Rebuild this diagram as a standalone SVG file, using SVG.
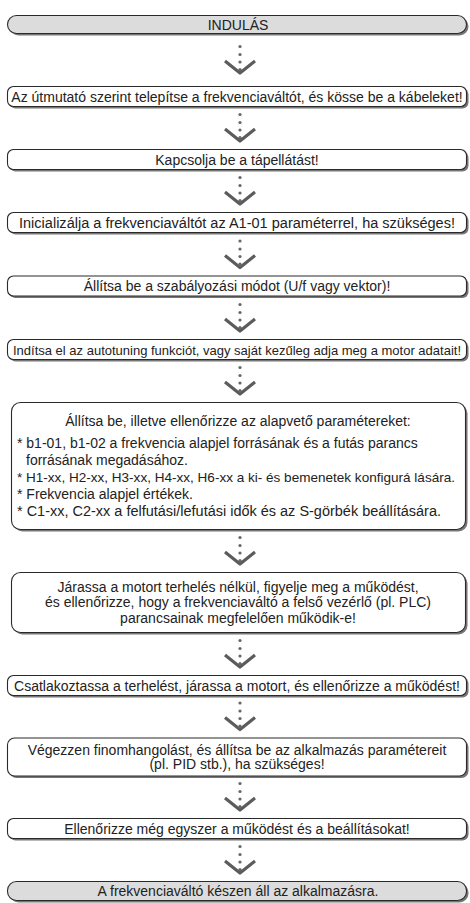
<svg xmlns="http://www.w3.org/2000/svg" xmlns:xlink="http://www.w3.org/1999/xlink" width="470" height="903" viewBox="0 0 470 903">
<style>
.sh{fill:#767676}
.bx{fill:#fff;stroke:#2a2a2a;stroke-width:1.1}
.tm{fill:#dcdcdc}
text{font-family:"Liberation Sans",Arial,sans-serif;font-size:14px;fill:#222}
.c{text-anchor:middle}
.dot{fill:#666}
.chev{fill:none;stroke:#5c5c5c;stroke-width:3.2;stroke-linejoin:round}
</style>
<defs>
<g id="arrow">
<circle class="dot" cx="0" cy="-27.5" r="1.6"/>
<circle class="dot" cx="0" cy="-19.5" r="1.6"/>
<circle class="dot" cx="0" cy="-12" r="1.6"/>
<circle class="dot" cx="0" cy="-4.5" r="1.6"/>
<polyline class="chev" points="-15,-13 0,-1 15,-13"/>
</g>
</defs>
<rect width="470" height="903" fill="#fff"/>
<g id="connectors">
<use xlink:href="#arrow" x="240" y="74"/>
<use xlink:href="#arrow" x="240" y="142"/>
<use xlink:href="#arrow" x="240" y="205"/>
<use xlink:href="#arrow" x="240" y="268.5"/>
<use xlink:href="#arrow" x="240" y="332"/>
<use xlink:href="#arrow" x="240" y="395"/>
<use xlink:href="#arrow" x="240" y="565"/>
<use xlink:href="#arrow" x="240" y="668"/>
<use xlink:href="#arrow" x="240" y="730.5"/>
<use xlink:href="#arrow" x="240" y="811"/>
<use xlink:href="#arrow" x="240" y="874"/>
</g>
<g id="n1">
<rect class="sh" x="9.5" y="17.5" width="459" height="18" rx="9"/>
<rect class="bx tm" x="7.5" y="15.5" width="459" height="18" rx="9"/>
<text class="c" x="238" y="29.5">INDULÁS</text>
</g>
<g id="n2">
<rect class="sh" x="9.5" y="88.5" width="459" height="20" rx="6"/>
<rect class="bx" x="7.5" y="86.5" width="459" height="20" rx="6"/>
<text class="c" x="237" y="101.5">Az útmutató szerint telepítse a frekvenciaváltót, és kösse be a kábeleket!</text>
</g>
<g id="n3">
<rect class="sh" x="9.5" y="151.5" width="459" height="20" rx="6"/>
<rect class="bx" x="7.5" y="149.5" width="459" height="20" rx="6"/>
<text class="c" x="237" y="164.5">Kapcsolja be a tápellátást!</text>
</g>
<g id="n4">
<rect class="sh" x="9.5" y="214.5" width="459" height="20" rx="6"/>
<rect class="bx" x="7.5" y="212.5" width="459" height="20" rx="6"/>
<text class="c" x="237" y="227.5" textLength="436" lengthAdjust="spacingAndGlyphs">Inicializálja a frekvenciaváltót az A1-01 paraméterrel, ha szükséges!</text>
</g>
<g id="n5">
<rect class="sh" x="9.5" y="278" width="459" height="20" rx="6"/>
<rect class="bx" x="7.5" y="276" width="459" height="20" rx="6"/>
<text class="c" x="237" y="291">Állítsa be a szabályozási módot (U/f vagy vektor)!</text>
</g>
<g id="n6">
<rect class="sh" x="9.5" y="341.5" width="459" height="20" rx="6"/>
<rect class="bx" x="7.5" y="339.5" width="459" height="20" rx="6"/>
<text class="c" x="237" y="354.5" style="font-size:13px">Indítsa el az autotuning funkciót, vagy saját kezűleg adja meg a motor adatait!</text>
</g>
<g id="n7">
<rect class="sh" x="13.5" y="404.5" width="454" height="127" rx="9"/>
<rect class="bx" x="11.5" y="402.5" width="454" height="127" rx="9"/>
<text class="c" x="238" y="426">Állítsa be, illetve ellenőrizze az alapvető paramétereket:</text>
<text x="17" y="448">* b1-01, b1-02 a frekvencia alapjel forrásának és a futás parancs</text>
<text x="26" y="465">forrásának megadásához.</text>
<text x="17" y="482" style="font-size:13.6px" textLength="438" lengthAdjust="spacingAndGlyphs">* H1-xx, H2-xx, H3-xx, H4-xx, H6-xx a ki- és bemenetek konfigurá lására.</text>
<text x="17" y="499">* Frekvencia alapjel értékek.</text>
<text x="17" y="516" textLength="424" lengthAdjust="spacingAndGlyphs">* C1-xx, C2-xx a felfutási/lefutási idők és az S-görbék beállítására.</text>
</g>
<g id="n8">
<rect class="sh" x="13.5" y="574.5" width="454" height="60" rx="9"/>
<rect class="bx" x="11.5" y="572.5" width="454" height="60" rx="9"/>
<text class="c" x="238" y="591.5">Járassa a motort terhelés nélkül, figyelje meg a működést,</text>
<text class="c" x="238" y="607">és ellenőrizze, hogy a frekvenciaváltó a felső vezérlő (pl. PLC)</text>
<text class="c" x="238" y="622.5">parancsainak megfelelően működik-e!</text>
</g>
<g id="n9">
<rect class="sh" x="9.5" y="677.5" width="459" height="20" rx="6"/>
<rect class="bx" x="7.5" y="675.5" width="459" height="20" rx="6"/>
<text class="c" x="237" y="690.5">Csatlakoztassa a terhelést, járassa a motort, és ellenőrizze a működést!</text>
</g>
<g id="n10">
<rect class="sh" x="9.5" y="740" width="459" height="38" rx="7"/>
<rect class="bx" x="7.5" y="738" width="459" height="38" rx="7"/>
<text class="c" x="237" y="754.5">Végezzen finomhangolást, és állítsa be az alkalmazás paramétereit</text>
<text class="c" x="237" y="769">(pl. PID stb.), ha szükséges!</text>
</g>
<g id="n11">
<rect class="sh" x="9.5" y="820.5" width="459" height="20" rx="6"/>
<rect class="bx" x="7.5" y="818.5" width="459" height="20" rx="6"/>
<text class="c" x="237" y="833.5">Ellenőrizze még egyszer a működést és a beállításokat!</text>
</g>
<g id="n12">
<rect class="sh" x="9.5" y="883.5" width="459" height="19" rx="9"/>
<rect class="bx tm" x="7.5" y="881.5" width="459" height="19" rx="9"/>
<text class="c" x="238" y="896">A frekvenciaváltó készen áll az alkalmazásra.</text>
</g>
</svg>
